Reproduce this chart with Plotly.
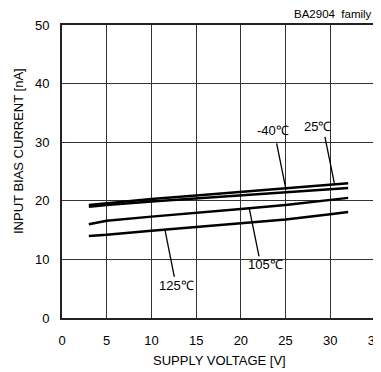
import plotly.graph_objects as go

# supply voltage [V]
voltage = [3, 5, 10, 15, 20, 25, 30, 32]

# input bias current [nA] per temperature
bias_25c = [19.3, 19.6, 20.3, 20.9, 21.5, 22.1, 22.7, 23.0]
bias_m40c = [19.0, 19.3, 19.9, 20.4, 20.9, 21.4, 21.9, 22.2]
bias_105c = [16.0, 16.6, 17.3, 17.9, 18.6, 19.3, 20.1, 20.5]
bias_125c = [14.0, 14.2, 14.9, 15.5, 16.1, 16.8, 17.7, 18.1]

series = [("25℃", bias_25c), ("-40℃", bias_m40c),
          ("105℃", bias_105c), ("125℃", bias_125c)]

# label text, label position, leader line (from, to)
labels = [
    ("-40℃", (23.6, 32.0), (24.0, 29.8), (25.05, 21.9)),
    ("25℃", (28.6, 32.6), (29.4, 30.9), (30.45, 23.0)),
    ("105℃", (22.7, 9.2), (20.94, 18.7), (22.03, 10.5)),
    ("125℃", (12.8, 5.6), (11.52, 15.0), (12.56, 7.0)),
]

FONT = "Liberation Sans, Arial, sans-serif"

# page body has an 8px margin, so the figure is offset for it; the figure
# runs slightly past the right edge of the window, so "35" is cut like the original
OFF = 8
W, H = 381, 372 - OFF
L, R, T, B = 62 - OFF, 381 - 375 + OFF, 25 - OFF, 54
pw, ph = W - L - R, H - T - B

fig = go.Figure()
for name, ys in series:
    fig.add_trace(go.Scatter(
        x=voltage, y=ys, mode="lines", name=name,
        line=dict(color="black", width=2.5),
        showlegend=False,
    ))

for text, (tx, ty), (x0, y0), (x1, y1) in labels:
    fig.add_shape(type="line", x0=x0, y0=y0, x1=x1, y1=y1,
                  xref="x", yref="y", line=dict(color="black", width=1.3))
    fig.add_annotation(x=tx, y=ty, text=text, showarrow=False,
                       font=dict(size=13, color="black", family=FONT))

fig.add_annotation(x=(373 - OFF - L) / pw, y=1.0, xref="paper", yref="paper",
                   yshift=11, xanchor="right", yanchor="middle",
                   showarrow=False, text="BA2904  family", borderpad=0,
                   font=dict(size=11.5, color="black", family=FONT))

# axis titles, placed in pixel terms relative to the plot area
fig.add_annotation(x=(18 - OFF - L) / pw, y=(H - B - (151 - OFF)) / ph,
                   xref="paper", yref="paper",
                   xanchor="center", yanchor="middle",
                   textangle=-90, showarrow=False,
                   text="INPUT BIAS CURRENT [nA]",
                   font=dict(size=13, color="black", family=FONT))
fig.add_annotation(x=(219 - OFF - L) / pw, y=-(360 - 318) / ph,
                   xref="paper", yref="paper",
                   xanchor="center", yanchor="middle", showarrow=False,
                   text="SUPPLY VOLTAGE [V]",
                   font=dict(size=13, color="black", family=FONT))

axis_style = dict(
    showgrid=True, gridcolor="#333333", gridwidth=1,
    showline=True, linecolor="#222222", linewidth=2, mirror=True,
    ticks="", zeroline=False, automargin=False, ticklabeloverflow="allow",
    tickfont=dict(size=13, color="black", family=FONT),
)

fig.update_xaxes(range=[0, 35], tickvals=[0, 5, 10, 15, 20, 25, 30, 35],
                 ticklabelstandoff=9, **axis_style)
fig.update_yaxes(range=[0, 50], tickvals=[0, 10, 20, 30, 40, 50],
                 ticklabelstandoff=8, **axis_style)

fig.update_layout(
    width=W, height=H,
    margin=dict(l=L, r=R, t=T, b=B),
    paper_bgcolor="white", plot_bgcolor="white",
    font=dict(family=FONT, color="black"),
)

fig.write_html("out.html")
